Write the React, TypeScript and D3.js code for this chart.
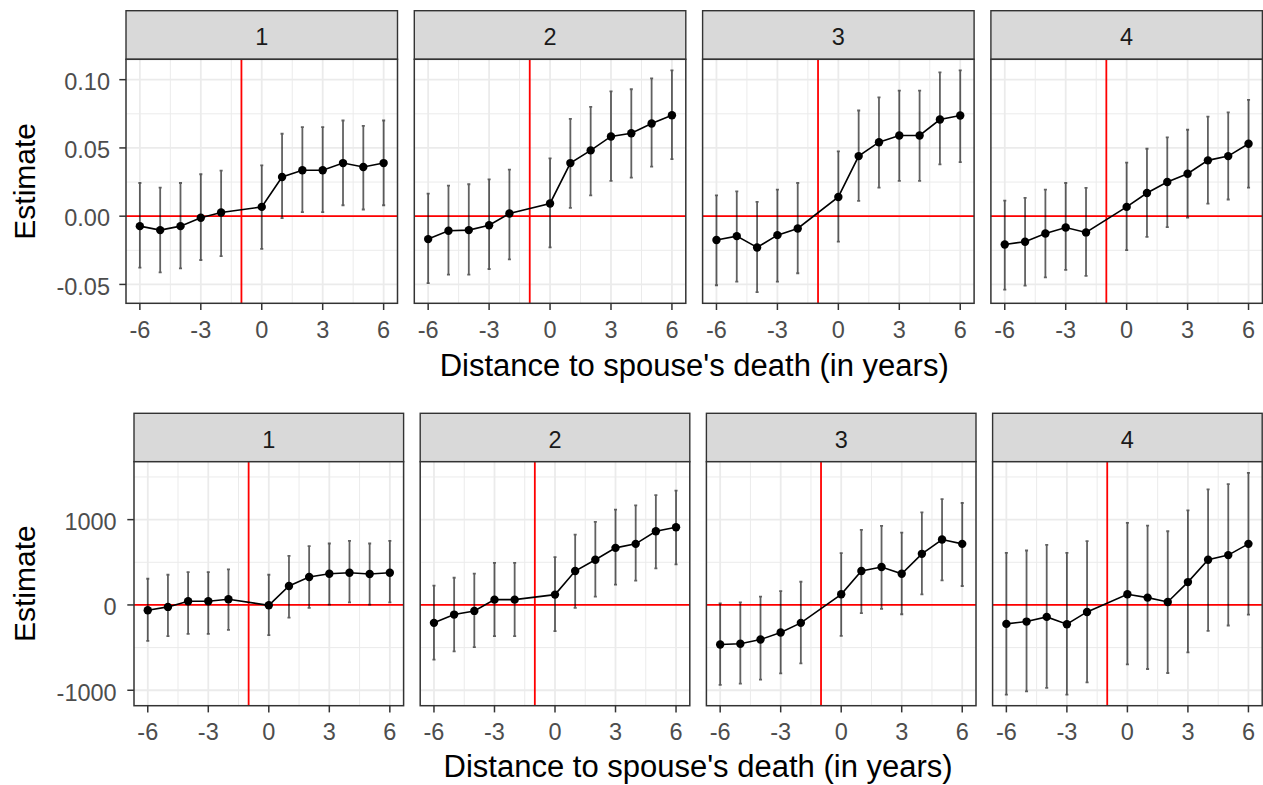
import React from 'react';
import * as d3 from 'd3';

const years = [-6, -5, -4, -3, -2, 0, 1, 2, 3, 4, 5, 6];
const facetLabels = ['1', '2', '3', '4'];
const refYear = -1;
const xTicks = [-6, -3, 0, 3, 6];
const xMinorTicks = [-4.5, -1.5, 1.5, 4.5];
const xTitle = "Distance to spouse's death (in years)";
const yTitle = 'Estimate';

const topYTicks = [-0.05, 0, 0.05, 0.1];
const topYTickLabels = ['-0.05', '0.00', '0.05', '0.10'];
const topYMinor = [-0.025, 0.025, 0.075];

const bottomYTicks = [-1000, 0, 1000];
const bottomYTickLabels = ['-1000', '0', '1000'];
const bottomYMinor = [-500, 500, 1500];

const topEstimates = [
  [-0.0073, -0.0102, -0.0073, -0.0012, 0.0027, 0.0068, 0.0287, 0.0336, 0.0336, 0.0389, 0.036, 0.0389],
  [-0.0168, -0.0107, -0.0102, -0.0066, 0.002, 0.0093, 0.0389, 0.0482, 0.0584, 0.0608, 0.0679, 0.0739],
  [-0.0175, -0.0146, -0.0229, -0.0139, -0.009, 0.0141, 0.044, 0.0542, 0.0591, 0.0591, 0.0708, 0.0737],
  [-0.0207, -0.0187, -0.0127, -0.0083, -0.0119, 0.0068, 0.017, 0.025, 0.0311, 0.0409, 0.044, 0.0531],
];
const topUpper = [
  [0.0243, 0.0209, 0.0243, 0.0307, 0.0333, 0.0372, 0.0604, 0.0652, 0.0652, 0.0701, 0.0662, 0.0701],
  [0.0165, 0.0224, 0.0234, 0.027, 0.0341, 0.0423, 0.0713, 0.0801, 0.0915, 0.093, 0.101, 0.1068],
  [0.0153, 0.0182, 0.0105, 0.0195, 0.0243, 0.0474, 0.0774, 0.0871, 0.092, 0.092, 0.1053, 0.1068],
  [0.0114, 0.0134, 0.0195, 0.0243, 0.0207, 0.0392, 0.0494, 0.0577, 0.0633, 0.073, 0.0761, 0.0852],
];
const topLower = [
  [-0.0377, -0.0411, -0.0382, -0.0321, -0.0292, -0.0239, -0.0015, 0.0029, 0.0029, 0.008, 0.0049, 0.008],
  [-0.0491, -0.0428, -0.0428, -0.0387, -0.0316, -0.0229, 0.0061, 0.0153, 0.0258, 0.0282, 0.0363, 0.0418],
  [-0.0506, -0.048, -0.0557, -0.048, -0.0418, -0.0187, 0.0112, 0.0209, 0.0258, 0.0258, 0.038, 0.0396],
  [-0.0538, -0.0509, -0.0448, -0.0394, -0.0438, -0.0248, -0.0151, -0.008, -0.001, 0.0092, 0.0122, 0.0209],
];

const bottomEstimates = [
  [-62, -23, 43, 43, 66, -4, 222, 327, 366, 377, 362, 377],
  [-210, -113, -70, 62, 62, 121, 397, 529, 669, 716, 864, 910],
  [-463, -455, -405, -323, -210, 125, 397, 444, 366, 599, 767, 716],
  [-222, -195, -140, -226, -82, 125, 86, 35, 268, 529, 584, 716],
];
const bottomUpper = [
  [307, 354, 385, 385, 416, 354, 576, 689, 720, 751, 720, 751],
  [226, 319, 366, 494, 494, 560, 825, 973, 1117, 1167, 1288, 1339],
  [19, 31, 97, 163, 272, 607, 879, 926, 848, 1086, 1241, 1195],
  [611, 638, 704, 611, 747, 961, 930, 864, 1109, 1354, 1416, 1549],
];
const bottomLower = [
  [-420, -366, -339, -339, -292, -354, -148, -35, 4, 31, 4, 31],
  [-642, -545, -494, -366, -366, -307, -35, 97, 237, 284, 428, 475],
  [-938, -922, -875, -802, -685, -362, -97, -47, -109, 125, 288, 222],
  [-1051, -1012, -973, -1051, -907, -696, -751, -798, -556, -304, -241, -113],
];

const FONT = '"Liberation Sans", Arial, Helvetica, sans-serif';
const ERR_HALF = 0.075;

interface RowProps {
  stripTop: number;
  panelTop: number;
  panelBottom: number;
  left0: number;
  panelW: number;
  gap: number;
  est: number[][];
  up: number[][];
  lo: number[][];
  yTicks: number[];
  yTickLabels: string[];
  yMinor: number[];
  yLabelOffset: number;
  titleBaseline: number;
}

function Row(p: RowProps) {
  const allLo = d3.min(p.lo.flat()) as number;
  const allHi = d3.max(p.up.flat()) as number;
  const span = allHi - allLo;
  const y = d3.scaleLinear().domain([allLo - span * 0.05, allHi + span * 0.05]).range([p.panelBottom, p.panelTop]);
  const xSpan = 12 + 2 * ERR_HALF;
  const xDom: [number, number] = [-6 - ERR_HALF - xSpan * 0.05, 6 + ERR_HALF + xSpan * 0.05];
  const panelH = p.panelBottom - p.panelTop;
  const stripH = p.panelTop - p.stripTop;
  const rightEnd = p.left0 + 4 * p.panelW + 3 * p.gap;
  const centerX = (p.left0 + rightEnd) / 2;
  const centerY = (p.panelTop + p.panelBottom) / 2;
  const tickLen = 6.7;

  return (
    <g>
      {facetLabels.map((lab, i) => {
        const left = p.left0 + i * (p.panelW + p.gap);
        const x = d3.scaleLinear().domain(xDom).range([left, left + p.panelW]);
        const pts = years.map((yr, j) => ({ yr, e: p.est[i][j], u: p.up[i][j], l: p.lo[i][j] }));
        const line = d3.line<{ yr: number; e: number }>().x((d) => x(d.yr)).y((d) => y(d.e));
        return (
          <g key={lab}>
            <rect x={left} y={p.stripTop} width={p.panelW} height={stripH} fill="#D9D9D9" stroke="#333333" strokeWidth={1.4} />
            <text x={left + p.panelW / 2} y={p.stripTop + 34.5} textAnchor="middle" fontSize={23.5} fill="#1A1A1A" fontFamily={FONT}>
              {lab}
            </text>
            <rect x={left} y={p.panelTop} width={p.panelW} height={panelH} fill="#FFFFFF" />
            {xMinorTicks.map((t) => (
              <line key={'xm' + t} x1={x(t)} x2={x(t)} y1={p.panelTop} y2={p.panelBottom} stroke="#EBEBEB" strokeWidth={1} />
            ))}
            {p.yMinor.map((t) => (
              <line key={'ym' + t} x1={left} x2={left + p.panelW} y1={y(t)} y2={y(t)} stroke="#EBEBEB" strokeWidth={1} />
            ))}
            {xTicks.map((t) => (
              <line key={'xM' + t} x1={x(t)} x2={x(t)} y1={p.panelTop} y2={p.panelBottom} stroke="#EBEBEB" strokeWidth={1.8} />
            ))}
            {p.yTicks.map((t) => (
              <line key={'yM' + t} x1={left} x2={left + p.panelW} y1={y(t)} y2={y(t)} stroke="#EBEBEB" strokeWidth={1.8} />
            ))}
            <line x1={left} x2={left + p.panelW} y1={y(0)} y2={y(0)} stroke="#FF0000" strokeWidth={1.8} />
            <line x1={x(refYear)} x2={x(refYear)} y1={p.panelTop} y2={p.panelBottom} stroke="#FF0000" strokeWidth={1.8} />
            <g stroke="#000000" strokeOpacity={0.62} strokeWidth={1.8} fill="none">
              {pts.map((d) => (
                <path
                  key={'eb' + d.yr}
                  d={`M${x(d.yr - ERR_HALF)},${y(d.u)}H${x(d.yr + ERR_HALF)}M${x(d.yr)},${y(d.u)}V${y(d.l)}M${x(d.yr - ERR_HALF)},${y(d.l)}H${x(d.yr + ERR_HALF)}`}
                />
              ))}
            </g>
            <path d={line(pts) || ''} fill="none" stroke="#000000" strokeWidth={1.6} />
            {pts.map((d) => (
              <circle key={'pt' + d.yr} cx={x(d.yr)} cy={y(d.e)} r={4.2} fill="#000000" />
            ))}
            <rect x={left} y={p.panelTop} width={p.panelW} height={panelH} fill="none" stroke="#333333" strokeWidth={1.5} />
            {xTicks.map((t) => (
              <g key={'xt' + t}>
                <line x1={x(t)} x2={x(t)} y1={p.panelBottom} y2={p.panelBottom + tickLen} stroke="#333333" strokeWidth={1.5} />
                <text x={x(t)} y={p.panelBottom + 34.5} textAnchor="middle" fontSize={23.5} fill="#4D4D4D" fontFamily={FONT}>
                  {String(t)}
                </text>
              </g>
            ))}
          </g>
        );
      })}
      {p.yTicks.map((t, k) => (
        <g key={'yt' + t}>
          <line x1={p.left0 - tickLen} x2={p.left0} y1={y(t)} y2={y(t)} stroke="#333333" strokeWidth={1.5} />
          <text x={p.left0 - p.yLabelOffset} y={y(t) + 10.3} textAnchor="end" fontSize={23.5} fill="#4D4D4D" fontFamily={FONT}>
            {p.yTickLabels[k]}
          </text>
        </g>
      ))}
      <text
        transform={`translate(${35},${centerY}) rotate(-90)`}
        textAnchor="middle"
        fontSize={30}
        fill="#000000"
        fontFamily={FONT}
      >
        {yTitle}
      </text>
      <text x={centerX} y={p.titleBaseline} textAnchor="middle" fontSize={31} fill="#000000" fontFamily={FONT}>
        {xTitle}
      </text>
    </g>
  );
}

export default function App() {
  return (
    <svg
      width={1263}
      height={785}
      viewBox="0 0 1263 785"
      style={{ position: 'absolute', left: 0, top: 0, background: '#FFFFFF' }}
    >
      <rect x={0} y={0} width={1263} height={785} fill="#FFFFFF" />
      <Row
        stripTop={10.7}
        panelTop={59.3}
        panelBottom={303.3}
        left0={126}
        panelW={271.5}
        gap={16.8}
        est={topEstimates}
        up={topUpper}
        lo={topLower}
        yTicks={topYTicks}
        yTickLabels={topYTickLabels}
        yMinor={topYMinor}
        yLabelOffset={16}
        titleBaseline={376}
      />
      <Row
        stripTop={413.3}
        panelTop={461.7}
        panelBottom={705.7}
        left0={134}
        panelW={269.6}
        gap={16.6}
        est={bottomEstimates}
        up={bottomUpper}
        lo={bottomLower}
        yTicks={bottomYTicks}
        yTickLabels={bottomYTickLabels}
        yMinor={bottomYMinor}
        yLabelOffset={17.3}
        titleBaseline={777}
      />
    </svg>
  );
}
